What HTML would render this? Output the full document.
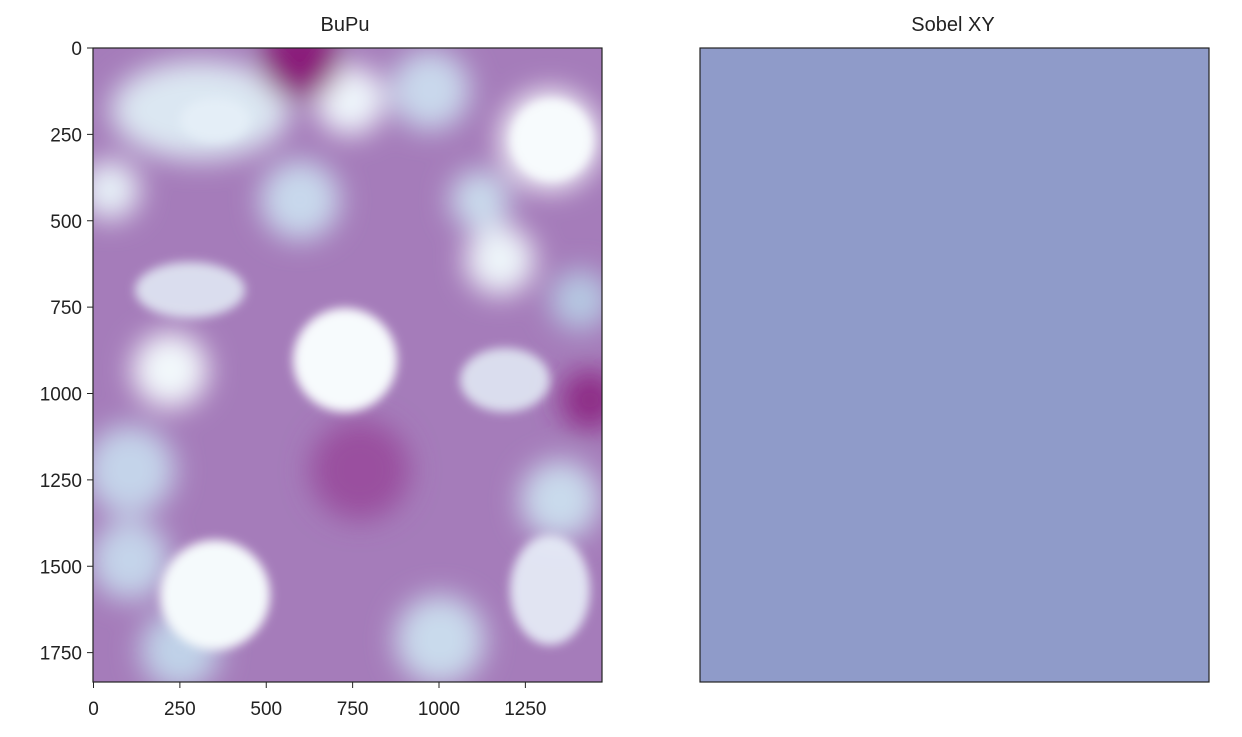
<!DOCTYPE html>
<html><head><meta charset="utf-8"><style>
body{margin:0;background:#fff;width:1242px;height:732px;overflow:hidden;font-family:"Liberation Sans","DejaVu Sans",sans-serif}
</style></head><body>
<svg width="1242" height="732" xmlns="http://www.w3.org/2000/svg">
<defs>
<filter id="b1" x="-50%" y="-50%" width="200%" height="200%"><feGaussianBlur stdDeviation="14"/></filter>
<filter id="b2" x="-50%" y="-50%" width="200%" height="200%"><feGaussianBlur stdDeviation="5"/></filter>
<clipPath id="cl"><rect x="93" y="48" width="509" height="634"/></clipPath>
</defs>
<text x="345" y="31" font-size="20" text-anchor="middle" fill="#222">BuPu</text>
<text x="953" y="31" font-size="20" text-anchor="middle" fill="#222">Sobel XY</text>
<g clip-path="url(#cl)">
<rect x="93" y="48" width="509" height="634" fill="#a57cba"/>
<g filter="url(#b1)">
<ellipse cx="200" cy="110" rx="90" ry="50" fill="#dbe7f2"/>
<circle cx="350" cy="100" r="35" fill="#eef5fb"/>
<circle cx="430" cy="90" r="40" fill="#c9d8ec"/>
<circle cx="110" cy="190" r="30" fill="#e6eff7"/>
<circle cx="300" cy="200" r="40" fill="#c8d8ec"/>
<circle cx="550" cy="140" r="50" fill="#f7fbfd"/>
<circle cx="500" cy="260" r="35" fill="#edf4f9"/>
<circle cx="170" cy="370" r="38" fill="#f2f8fb"/>
<circle cx="130" cy="470" r="45" fill="#c4d4ea"/>
<circle cx="130" cy="560" r="40" fill="#c4d4ea"/>
<circle cx="580" cy="300" r="30" fill="#b6c8e2"/>
<circle cx="440" cy="640" r="45" fill="#c9daec"/>
<circle cx="560" cy="500" r="40" fill="#c9daec"/>
<circle cx="480" cy="200" r="30" fill="#c9daec"/>
<circle cx="300" cy="60" r="40" fill="#8a1b7a"/>
<circle cx="590" cy="400" r="30" fill="#8d2a85"/>
<circle cx="360" cy="470" r="50" fill="#9a4f9f"/>
<circle cx="180" cy="650" r="40" fill="#c0d2e8"/>
</g>
<g filter="url(#b2)">
<circle cx="345" cy="360" r="52" fill="#f7fbfd"/>
<circle cx="215" cy="595" r="55" fill="#f5fafc"/>
<circle cx="552" cy="140" r="40" fill="#f7fbfd"/>
<ellipse cx="215" cy="120" rx="35" ry="22" fill="#e4eef7"/>
<ellipse cx="190" cy="290" rx="55" ry="28" fill="#e4eef7" opacity="0.85"/>
<ellipse cx="505" cy="380" rx="45" ry="32" fill="#e4eef7" opacity="0.85"/>
<ellipse cx="550" cy="590" rx="40" ry="55" fill="#e8f0f8" opacity="0.9"/>
</g>
</g>
<rect x="93" y="48" width="509" height="634" fill="none" stroke="#222" stroke-width="1.2"/>
<g>
<rect x="700" y="48" width="509" height="634" fill="#8f9bc9" stroke="#222" stroke-width="1.2"/>
</g>
<g id="ax" font-size="19" fill="#222" stroke="#222"></g>
<script>
const yTicks=[0,250,500,750,1000,1250,1500,1750];
const xTicks=[0,250,500,750,1000,1250];
const sc=0.3455, x0=93.5, y0=48;
const g=document.getElementById('ax');
const NS='http://www.w3.org/2000/svg';
yTicks.forEach(v=>{const y=y0+v*sc;
const l=document.createElementNS(NS,'line');l.setAttribute('x1',87);l.setAttribute('x2',93);l.setAttribute('y1',y);l.setAttribute('y2',y);

g.appendChild(l);
const t=document.createElementNS(NS,'text');t.setAttribute('x',82);t.setAttribute('y',y+7);t.setAttribute('text-anchor','end');t.setAttribute('stroke','none');t.textContent=v;

g.appendChild(t);});
xTicks.forEach(v=>{const x=x0+v*sc;
const l=document.createElementNS(NS,'line');l.setAttribute('x1',x);l.setAttribute('x2',x);l.setAttribute('y1',682);l.setAttribute('y2',688);

g.appendChild(l);
const t=document.createElementNS(NS,'text');t.setAttribute('x',x);t.setAttribute('y',715);t.setAttribute('text-anchor','middle');t.setAttribute('stroke','none');t.textContent=v;

g.appendChild(t);});
</script>
</svg>
</body></html>
